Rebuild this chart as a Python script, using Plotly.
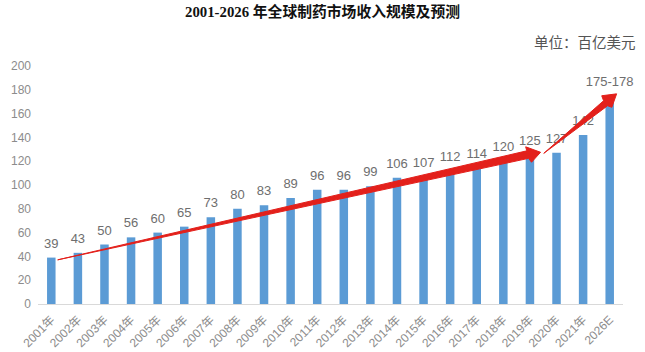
import plotly.graph_objects as go

categories = ["2001年","2002年","2003年","2004年","2005年","2006年","2007年","2008年","2009年","2010年","2011年",
              "2012年","2013年","2014年","2015年","2016年","2017年","2018年","2019年","2020年","2021年","2026E"]
values = [39,43,50,56,60,65,73,80,83,89,96,96,99,106,107,112,114,120,125,127,142,175]
labels = ["39","43","50","56","60","65","73","80","83","89","96","96","99","106","107","112","114","120","125","127","142","175-178"]
yticks = [0,20,40,60,80,100,120,140,160,180,200]

# Red hand-drawn trend arrows, as (category position, value)
arrow1_x = [0.24, 17.88, 17.84, 18.40, 18.06, 17.95, 0.24]
arrow1_y = [37.1, 128.7, 132.1, 127.5, 119.1, 122.4, 37.1]
arrow2_x = [18.52, 20.77, 20.70, 21.26, 21.08, 20.92, 18.52]
arrow2_y = [126.6, 170.8, 175.0, 176.6, 165.3, 166.6, 126.6]

GRAY = "#8c8c8c"
SANS = "'Liberation Sans','Noto Sans CJK SC',sans-serif"
SERIF = "'Liberation Serif','Noto Sans CJK SC',serif"
xpos = list(range(len(categories)))

fig = go.Figure()
fig.add_bar(x=xpos, y=values, width=0.32, marker=dict(color="#5b9bd5", line_width=0), showlegend=False)
fig.add_scatter(x=xpos, y=values, mode="markers+text", text=labels, textposition="top center",
                marker=dict(size=9, opacity=0), cliponaxis=False,
                textfont=dict(family=SANS, size=13, color="#6e6e6e"), showlegend=False)
for ax, ay in ((arrow1_x, arrow1_y), (arrow2_x, arrow2_y)):
    fig.add_scatter(x=ax, y=ay, mode="lines", fill="toself", fillcolor="#e3201b",
                    line=dict(color="#e3201b", width=1), hoverinfo="skip", showlegend=False)

fig.update_layout(
    width=645, height=352, autosize=False, margin=dict(l=38, r=22, t=66, b=48),
    plot_bgcolor="white", paper_bgcolor="white",
    xaxis=dict(range=[-0.5, 21.5], tickvals=xpos, ticktext=categories, tickangle=-45, automargin=False,
               showgrid=False, zeroline=False, showline=True, linecolor="#d9d9d9", linewidth=1, ticks="",
               ticklabelstandoff=3, tickfont=dict(family=SANS, size=12, color=GRAY)),
    yaxis=dict(range=[0, 200], tickvals=yticks, showgrid=False, zeroline=False, showline=False, ticks="",
               automargin=False, ticklabelstandoff=6,
               tickfont=dict(family=SANS, size=12, color=GRAY)),
    annotations=[
        dict(text="<b>2001-2026 年全球制药市场收入规模及预测</b>", xref="paper", yref="paper", x=0, xanchor="left",
             y=1, yanchor="bottom", xshift=145, yshift=44, showarrow=False,
             font=dict(family=SERIF, size=14.8, color="#111111")),
        dict(text="单位：百亿美元", xref="paper", yref="paper", x=1, xanchor="right", y=1, yanchor="bottom",
             xshift=15, yshift=13, showarrow=False, font=dict(family=SERIF, size=14.5, color="#555555")),
    ],
)
fig.write_html("out.html", config={"displayModeBar": False},
               post_script="document.body.style.margin='0';document.documentElement.style.overflow='hidden';")
